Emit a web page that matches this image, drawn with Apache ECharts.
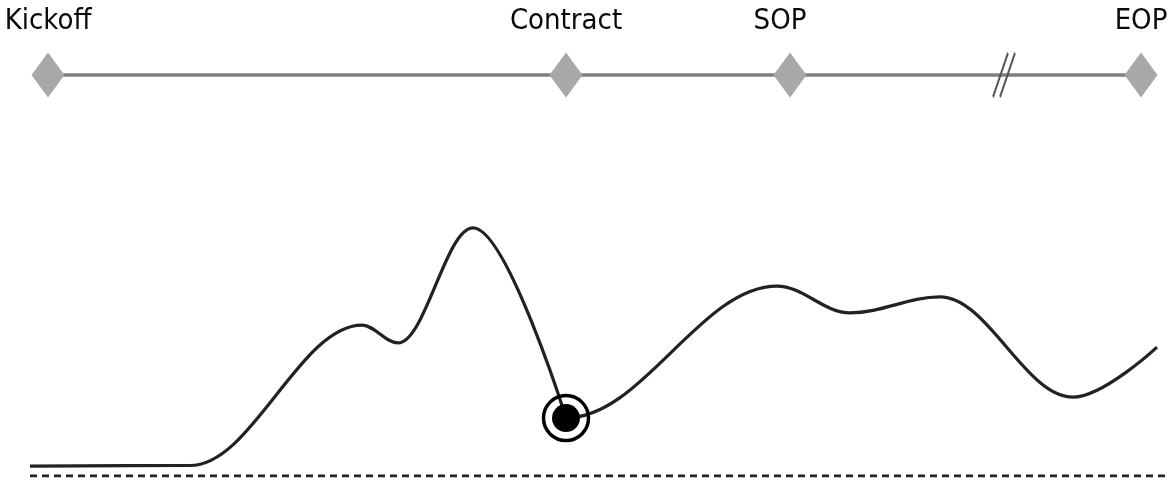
<!DOCTYPE html>
<html>
<head>
<meta charset="utf-8">
<script src="https://cdn.jsdelivr.net/npm/echarts@6/dist/echarts.min.js"></script>
<style>
  html, body { margin: 0; padding: 0; background: #fff; }
  #chart { width: 1171px; height: 485px; }
</style>
</head>
<body>
<div id="chart"></div>
<script>
// project timeline (x in same time units for both panels)
const milestone_names = ['Kickoff', 'Contract', 'SOP', 'EOP'];
const milestone_x = [48, 566, 790, 1141];
const break_x = 1004;

// effort curve, level 0..100 above the baseline (turning points only)
// before contract
const pre_x = [30, 190, 362, 398, 473, 566];
const pre_y = [3.6, 3.8, 54.7, 48.2, 89.9, 21.0];
// after contract
const post_x = [558, 566, 777, 850, 940, 1073, 1157];
const post_y = [21.0, 21.0, 68.8, 59.1, 64.9, 28.6, 46.7];
const contract_point = [566, 21.0];
const baseline_x = [30, 1165];

const chart = echarts.init(document.getElementById('chart'), null, { renderer: 'canvas' });

const hiddenX = (idx) => ({
  type: 'value', gridIndex: idx, min: 0, max: 1171, show: false
});

const curveSeries = (xs, ys) => ({
  type: 'line',
  xAxisIndex: 1, yAxisIndex: 1,
  data: xs.map((x, i) => [x, ys[i]]),
  smooth: 0.36,
  smoothMonotone: 'x',
  symbol: 'none',
  lineStyle: { color: '#222', width: 3.2 },
  z: 2
});

const option = {
  animation: false,
  grid: [
    { left: 0, right: 0, top: 55, height: 40 },
    { left: 0, right: 0, top: 200, bottom: 9 }
  ],
  xAxis: [hiddenX(0), hiddenX(1)],
  yAxis: [
    { type: 'value', gridIndex: 0, min: -1, max: 1, show: false },
    { type: 'value', gridIndex: 1, min: 0, max: 100, show: false }
  ],
  series: [
    {
      // timeline bar
      type: 'line',
      xAxisIndex: 0, yAxisIndex: 0,
      data: [[milestone_x[0], 0], [milestone_x[3], 0]],
      symbol: 'none',
      lineStyle: { color: '#7f7f7f', width: 3.5 },
      z: 1
    },
    {
      // break mark
      type: 'scatter',
      xAxisIndex: 0, yAxisIndex: 0,
      data: [[break_x, 0]],
      symbol: 'path://M0,44 L15,0 M7,44 L22,0',
      symbolSize: [22, 44],
      itemStyle: { color: 'none', borderColor: '#555', borderWidth: 2.5, opacity: 1 },
      z: 2
    },
    {
      // milestones
      type: 'scatter',
      xAxisIndex: 0, yAxisIndex: 0,
      data: milestone_x.map((x, i) => ({
        value: [x, 0],
        name: milestone_names[i],
        label: milestone_names[i] === 'SOP' ? { offset: [-10, 0] } : {}
      })),
      symbol: 'diamond',
      symbolSize: [33, 45],
      itemStyle: { color: '#a8a8a8', opacity: 1 },
      label: {
        show: true,
        position: 'top',
        distance: 17,
        formatter: '{b}',
        color: '#0a0a0a',
        fontSize: 29,
        fontWeight: 500,
        fontFamily: '"DejaVu Sans Condensed", sans-serif'
      },
      z: 3
    },
    {
      // dashed baseline
      type: 'line',
      xAxisIndex: 1, yAxisIndex: 1,
      data: baseline_x.map(x => [x, 0]),
      symbol: 'none',
      lineStyle: { color: '#222', width: 3, type: [7, 5] },
      z: 1
    },
    curveSeries(pre_x, pre_y),
    curveSeries(post_x, post_y),
    {
      // contract point: ring
      type: 'scatter',
      xAxisIndex: 1, yAxisIndex: 1,
      data: [contract_point],
      symbol: 'circle',
      symbolSize: 45,
      itemStyle: { color: 'transparent', borderColor: '#000', borderWidth: 3.5, opacity: 1 },
      z: 3
    },
    {
      // contract point: dot
      type: 'scatter',
      xAxisIndex: 1, yAxisIndex: 1,
      data: [contract_point],
      symbol: 'circle',
      symbolSize: 28,
      itemStyle: { color: '#000', opacity: 1 },
      z: 4
    }
  ]
};

chart.setOption(option);
</script>
</body>
</html>
